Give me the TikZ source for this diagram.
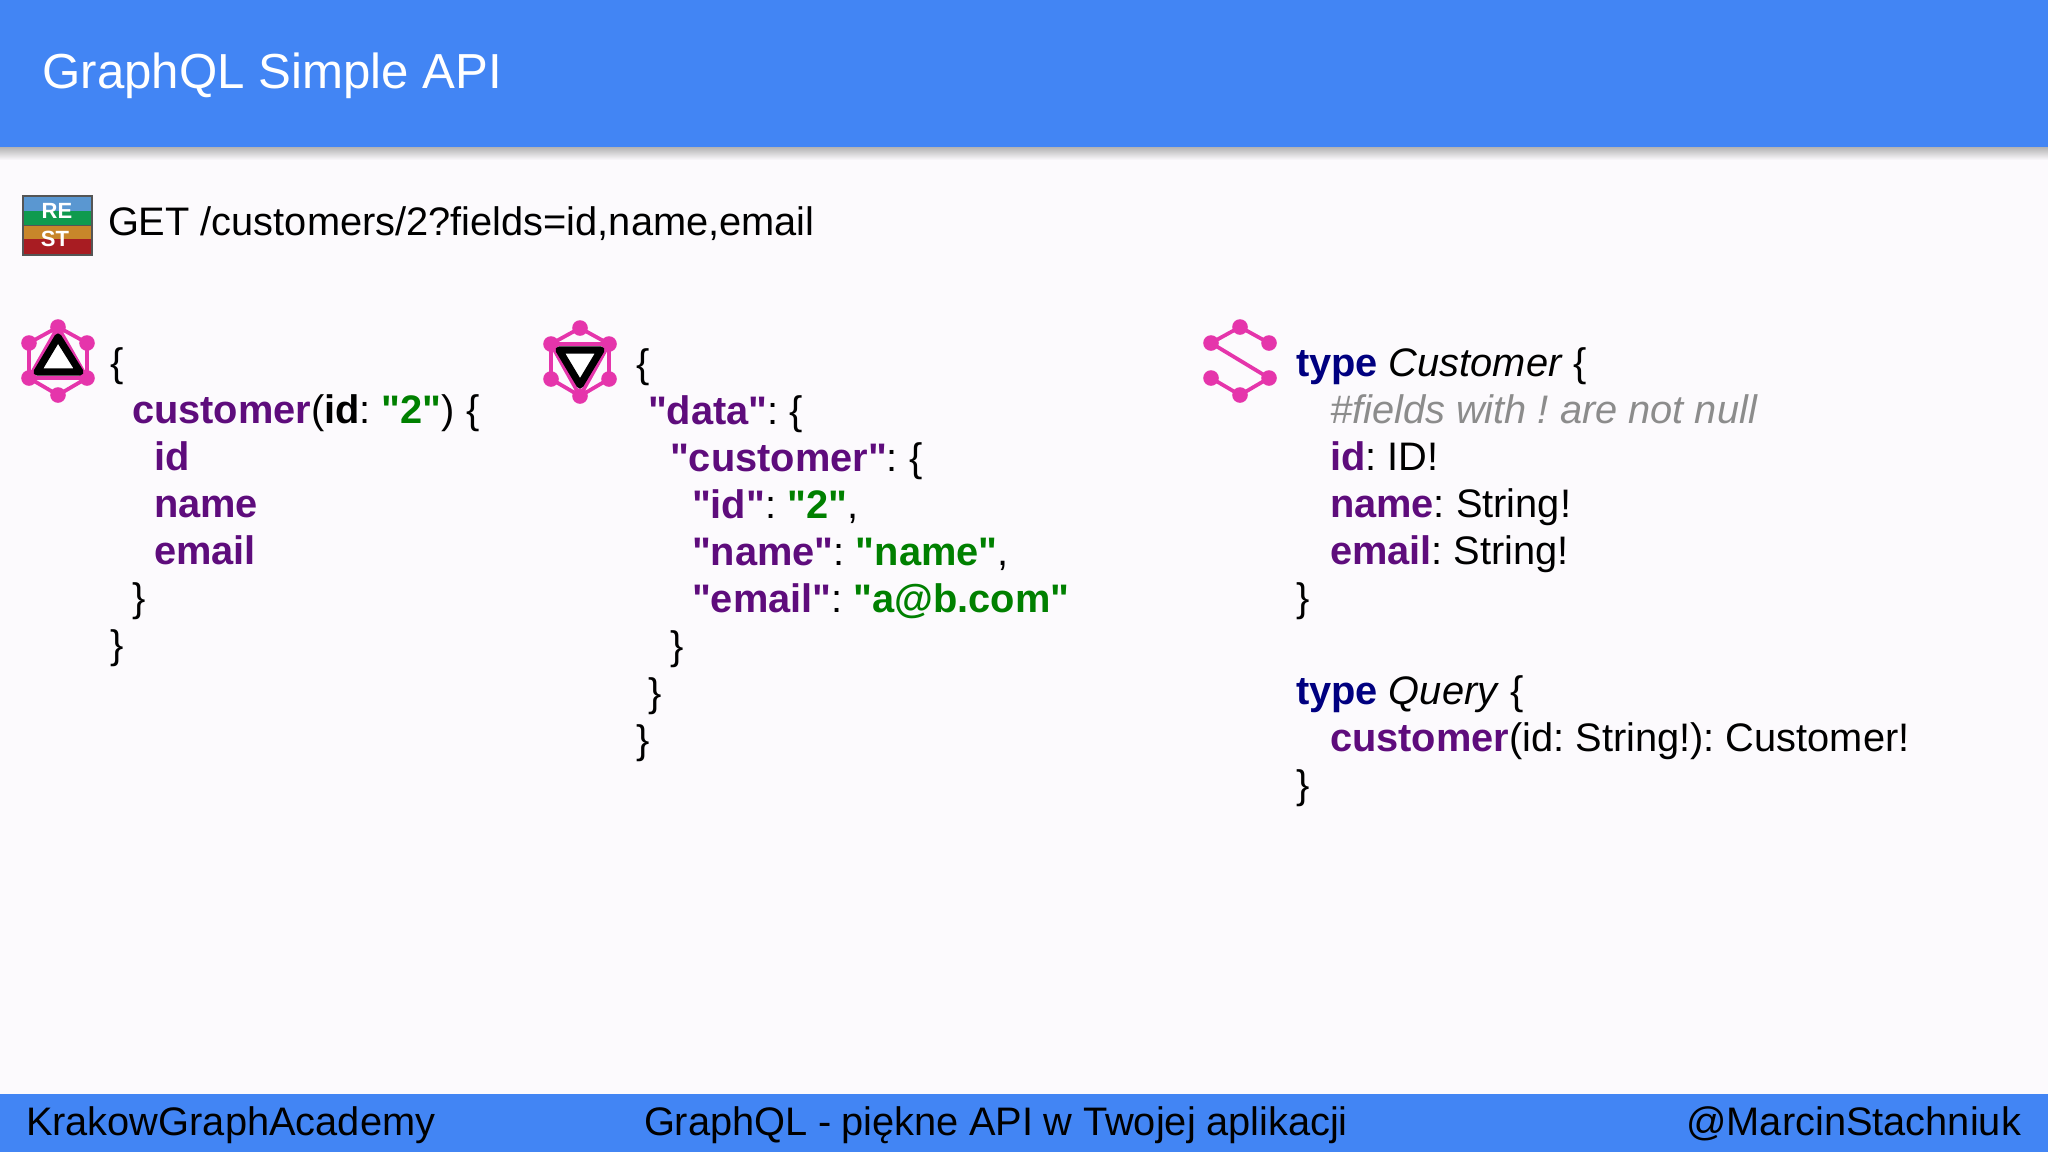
\documentclass[tikz,border=0pt]{standalone}
\usepackage{fontspec}
\setmainfont{Liberation Sans}[Ligatures=TeXOff]
\frenchspacing
\definecolor{hdr}{HTML}{4285F4}
\definecolor{bgc}{HTML}{FCFAFD}
\definecolor{pur}{HTML}{5E0C7C}
\definecolor{grn}{HTML}{008000}
\definecolor{nvy}{HTML}{000080}
\definecolor{gry}{HTML}{8C8C8C}
\definecolor{pnk}{HTML}{E535AB}
\definecolor{rblue}{HTML}{5A97D1}
\definecolor{rgreen}{HTML}{0F9A4E}
\definecolor{rorange}{HTML}{C8862A}
\definecolor{rred}{HTML}{A81C22}
\definecolor{rbord}{HTML}{555555}
\newcommand{\fld}[1]{\textbf{\textcolor{pur}{#1}}}
\newcommand{\str}[1]{\textbf{\textcolor{grn}{#1}}}
\newcommand{\kwd}[1]{\textbf{\textcolor{nvy}{#1}}}
\tikzset{
 x=0.5pt,y=-0.5pt,
 code/.style={anchor=base west,inner sep=0pt,outer sep=0pt,font=\fontsize{19.9}{24}\selectfont,text=black},
 foot/.style={inner sep=0pt,outer sep=0pt,font=\fontsize{19.9}{24}\selectfont,text=black},
 hexdot/.style={circle,fill=pnk,draw=none,minimum size=7.8pt,inner sep=0pt,outer sep=0pt},
 lnk/.style={draw=pnk,line width=1.9pt},
 tri/.style={draw=black,line width=3.6pt,line join=round,fill=white},
 badge/.style={inner sep=0pt,outer sep=0pt,text=white,font=\fontsize{11}{12}\selectfont\bfseries},
}
% hexagon dots round centre (#2,#3), names #1a..#1f
\newcommand{\hexdots}[3]{%
 \node[hexdot] (#1a) at (#2,#3-33) {};
 \node[hexdot] (#1b) at (#2+29,#3-17) {};
 \node[hexdot] (#1c) at (#2+29,#3+18) {};
 \node[hexdot] (#1d) at (#2,#3+35) {};
 \node[hexdot] (#1e) at (#2-29,#3+18) {};
 \node[hexdot] (#1f) at (#2-29,#3-17) {};
}
\begin{document}
\begin{tikzpicture}
\fill[bgc] (0,0) rectangle (2048,1152);
\useasboundingbox (0,0) rectangle (2048,1152);
\shade[top color=black!32,bottom color=bgc] (0,146) rectangle (2048,160);
\fill[hdr] (0,0) rectangle (2048,147);
\fill[hdr] (0,1094) rectangle (2048,1152);
\node[anchor=base west,inner sep=0pt,text=white,font=\fontsize{24.6}{30}\selectfont] (title) at (42,88) {GraphQL Simple API};
% REST badge
\fill[rblue] (23,196) rectangle (92,211);
\fill[rgreen] (23,211) rectangle (92,225);
\fill[rorange] (23,225) rectangle (92,239);
\fill[rred] (23,239) rectangle (92,255);
\draw[rbord,line width=0.7pt] (23,196) rectangle (92,255);
\draw[rbord,line width=0.5pt] (23,225) -- (92,225);
\node[badge] (re) at (57,211) {RE};
\node[badge] (st) at (55,239) {ST};
\node[code] (get) at (108,235) {GET /customers/2?fields=id,name,email};
% icon 1
\hexdots{p}{58}{360}
\draw[lnk] (pa.center) -- (pb.center) -- (pc.center) -- (pd.center) -- (pe.center) -- (pf.center) -- cycle;
\draw[lnk] (pa.center) -- (pc.center) -- (pe.center) -- cycle;
\coordinate (t1a) at (58,337);
\coordinate (t1b) at (37,372);
\coordinate (t1c) at (80,372);
\draw[tri] (t1a) -- (t1b) -- (t1c) -- cycle;
% icon 2
\hexdots{q}{580}{361}
\draw[lnk] (qa.center) -- (qb.center) -- (qc.center) -- (qd.center) -- (qe.center) -- (qf.center) -- cycle;
\draw[lnk] (qf.center) -- (qb.center) -- (qd.center) -- cycle;
\coordinate (t2a) at (559,350);
\coordinate (t2b) at (601,350);
\coordinate (t2c) at (580,385);
\draw[tri] (t2a) -- (t2b) -- (t2c) -- cycle;
% icon 3
\hexdots{s}{1240}{360}
\draw[lnk] (sb.center) -- (sa.center) -- (sf.center) -- (sc.center) -- (sd.center) -- (se.center);
% column 1
\node[code] (a1) at (110,376) {\{};
\node[code] (a2) at (132,423) {\fld{customer}(\textbf{id}: \str{"2"}) \{};
\node[code] (a3) at (154,470) {\fld{id}};
\node[code] (a4) at (154,517) {\fld{name}};
\node[code] (a5) at (154,564) {\fld{email}};
\node[code] (a6) at (132,611) {\}};
\node[code] (a7) at (110,658) {\}};
% column 2
\node[code] (b1) at (636,377) {\{};
\node[code] (b2) at (648,424) {\fld{"data"}: \{};
\node[code] (b3) at (670,471) {\fld{"customer"}: \{};
\node[code] (b4) at (692,518) {\fld{"id"}: \str{"2"},};
\node[code] (b5) at (692,565) {\fld{"name"}: \str{"name"},};
\node[code] (b6) at (692,612) {\fld{"email"}: \str{"a@b.com"}};
\node[code] (b7) at (670,659) {\}};
\node[code] (b8) at (648,706) {\}};
\node[code] (b9) at (636,753) {\}};
% column 3
\node[code] (c1) at (1296,376) {\kwd{type} \textit{Customer} \{};
\node[code,text=gry] (c2) at (1330,423) {\textit{\#fields with ! are not null}};
\node[code] (c3) at (1330,470) {\fld{id}: ID!};
\node[code] (c4) at (1330,517) {\fld{name}: String!};
\node[code] (c5) at (1330,564) {\fld{email}: String!};
\node[code] (c6) at (1296,611) {\}};
\node[code] (c7) at (1296,704) {\kwd{type} \textit{Query} \{};
\node[code] (c8) at (1330,751) {\fld{customer}(id: String!): Customer!};
\node[code] (c9) at (1296,798) {\}};
% footer
\node[foot,anchor=base west] (f1) at (26,1135) {KrakowGraphAcademy};
\node[foot,anchor=base west] (f2) at (644,1135) {\spaceskip=5.2pt GraphQL - piękne API w Twojej aplikacji};
\node[foot,anchor=base east] (f3) at (2021,1135) {@MarcinStachniuk};
\end{tikzpicture}
\end{document}
